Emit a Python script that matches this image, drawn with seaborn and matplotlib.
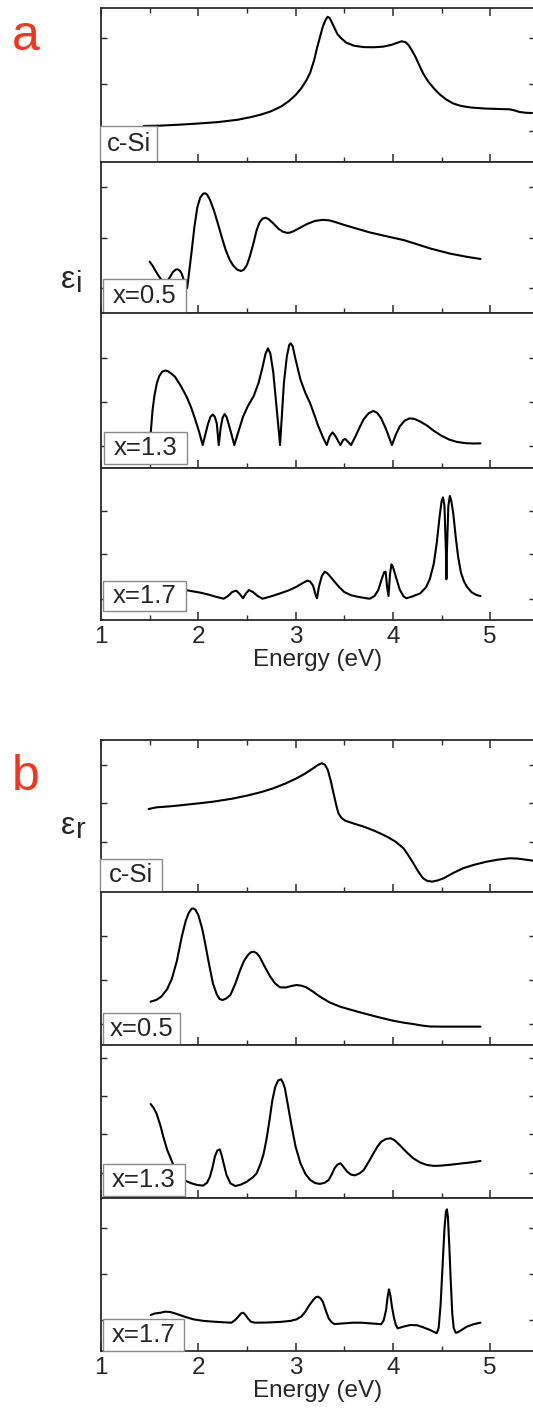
import matplotlib
matplotlib.use("Agg")
import matplotlib.pyplot as plt
from matplotlib.patches import Rectangle
from matplotlib.ticker import MultipleLocator
import seaborn as sns

# ---------------------------------------------------------------
# Imaginary part of the dielectric function (arbitrary units)
# ---------------------------------------------------------------
ei_csi_E = [1.44, 1.60, 1.80, 2.00, 2.20, 2.40, 2.55, 2.65, 2.75, 2.85, 2.93, 3.00, 3.06,
            3.11, 3.15, 3.19, 3.22, 3.25, 3.28, 3.31, 3.33, 3.35, 3.37, 3.40, 3.43, 3.47,
            3.52, 3.60, 3.70, 3.80, 3.90, 3.98, 4.04, 4.09, 4.13, 4.16, 4.19, 4.23, 4.27,
            4.31, 4.36, 4.42, 4.48, 4.55, 4.62, 4.70, 4.80, 4.95, 5.10, 5.20, 5.25, 5.30,
            5.36, 5.43]
ei_csi = [23.4, 23.6, 24.2, 25.0, 25.9, 27.4, 29.3, 30.9, 33.0, 36.0, 39.5, 43.5, 48.0,
          53.0, 58.0, 66.0, 74.0, 81.0, 88.0, 92.5, 94.3, 93.5, 91.0, 87.0, 83.0, 80.3,
          77.5, 75.5, 74.6, 74.5, 74.9, 76.0, 77.3, 78.4, 77.8, 76.0, 73.0, 68.5, 63.0,
          57.6, 52.5, 47.9, 44.0, 40.5, 38.0, 36.4, 35.4, 34.7, 34.4, 34.2, 33.5, 32.5,
          32.0, 31.8]

ei_x05_E = [1.50, 1.53, 1.555, 1.58, 1.61, 1.64, 1.66, 1.68, 1.71, 1.74, 1.77, 1.79, 1.81,
            1.83, 1.85, 1.87, 1.885, 1.90, 1.93, 1.96, 1.99, 2.02, 2.05, 2.07, 2.09, 2.12,
            2.16, 2.20, 2.24, 2.28, 2.32, 2.36, 2.40, 2.44, 2.47, 2.50, 2.53, 2.57, 2.60,
            2.63, 2.66, 2.69, 2.72, 2.77, 2.82, 2.87, 2.91, 2.94, 2.98, 3.05, 3.12, 3.20,
            3.28, 3.35, 3.42, 3.50, 3.60, 3.76, 3.95, 4.11, 4.25, 4.38, 4.50, 4.59, 4.68,
            4.76, 4.84, 4.90]
ei_x05 = [34.0, 31.3, 28.5, 25.8, 23.0, 20.5, 19.7, 20.8, 24.0, 27.2, 28.8, 28.9, 28.0,
          26.0, 22.0, 17.4, 16.5, 24.0, 40.0, 57.0, 70.0, 76.5, 79.0, 79.3, 78.5, 75.0,
          68.0, 59.5, 50.5, 42.0, 35.5, 31.3, 28.7, 27.8, 28.8, 31.8, 37.5, 47.0, 55.0,
          60.0, 62.5, 63.1, 62.3, 59.4, 56.0, 53.8, 53.1, 53.2, 54.2, 56.6, 59.0, 61.0,
          61.7, 61.3, 60.0, 58.3, 56.4, 53.4, 50.6, 48.3, 45.5, 42.8, 40.8, 39.3, 38.2,
          37.2, 36.4, 35.8]

ei_x13_E = [1.50, 1.51, 1.53, 1.55, 1.575, 1.60, 1.63, 1.66, 1.69, 1.72, 1.76, 1.82, 1.88,
            1.93, 1.97, 2.01, 2.045, 2.07, 2.10, 2.125, 2.15, 2.17, 2.19, 2.21, 2.23, 2.25,
            2.27, 2.29, 2.31, 2.34, 2.37, 2.41, 2.46, 2.51, 2.57, 2.62, 2.66, 2.69, 2.715,
            2.74, 2.77, 2.80, 2.83, 2.84, 2.855, 2.88, 2.91, 2.935, 2.95, 2.97, 3.00, 3.05,
            3.10, 3.15, 3.20, 3.23, 3.28, 3.32, 3.35, 3.38, 3.41, 3.46, 3.49, 3.51, 3.53,
            3.57, 3.62, 3.66, 3.70, 3.75, 3.80, 3.84, 3.88, 3.93, 3.99, 4.03, 4.07, 4.12,
            4.17, 4.22, 4.28, 4.35, 4.42, 4.50, 4.58, 4.66, 4.75, 4.83, 4.90]
ei_x13 = [16.0, 22.0, 37.4, 47.0, 55.0, 59.5, 62.2, 62.9, 62.4, 61.0, 58.9, 53.0, 46.0,
          38.5, 31.0, 23.0, 14.8, 21.0, 28.5, 33.0, 34.5, 33.0, 28.8, 14.8, 26.0, 32.5,
          34.8, 33.0, 28.8, 22.0, 14.8, 23.0, 33.1, 40.0, 46.5, 55.0, 65.0, 73.5, 77.2,
          74.0, 62.0, 42.0, 22.0, 14.8, 30.0, 55.0, 72.0, 79.5, 80.4, 78.5, 70.0, 57.0,
          48.5, 41.7, 33.0, 27.5, 20.0, 14.8, 20.5, 23.0, 20.5, 14.8, 18.2, 18.7, 17.5,
          14.8, 21.0, 26.5, 31.5, 35.3, 36.8, 35.5, 32.0, 25.0, 14.8, 21.5, 26.8, 30.5,
          32.0, 31.7, 30.0, 27.4, 24.0, 20.8, 18.3, 16.8, 16.0, 15.8, 15.9]

ei_x17_E = [1.50, 1.87, 1.95, 2.02, 2.10, 2.18, 2.26, 2.30, 2.35, 2.39, 2.42, 2.46, 2.49,
            2.52, 2.56, 2.61, 2.66, 2.75, 2.84, 2.93, 3.01, 3.07, 3.12, 3.15, 3.18, 3.21,
            3.22, 3.24, 3.27, 3.30, 3.33, 3.36, 3.40, 3.45, 3.50, 3.57, 3.63, 3.70, 3.76,
            3.81, 3.85, 3.88, 3.91, 3.925, 3.94, 3.955, 3.97, 3.985, 4.00, 4.03, 4.07, 4.11,
            4.14, 4.20, 4.28, 4.34, 4.38, 4.42, 4.45, 4.48, 4.50, 4.515, 4.53, 4.545, 4.55,
            4.555, 4.57, 4.585, 4.60, 4.62, 4.645, 4.67, 4.70, 4.73, 4.76, 4.81, 4.86, 4.90]
ei_x17 = [21.0, 19.7, 18.8, 18.0, 16.8, 15.3, 14.0, 15.5, 18.5, 19.3, 17.5, 14.3, 17.5,
          19.7, 18.5, 15.8, 14.0, 15.6, 17.5, 19.5, 21.9, 24.2, 25.9, 25.3, 22.5, 15.5,
          14.3, 22.0, 29.0, 31.8, 30.5, 28.3, 25.2, 21.5, 18.4, 16.3, 15.4, 14.6, 14.0,
          15.7, 19.7, 26.0, 31.5, 31.8, 22.0, 15.8, 30.0, 36.6, 35.0, 28.5, 20.0, 15.5,
          14.3, 15.5, 17.5, 21.5, 27.0, 37.0, 50.4, 68.0, 78.0, 80.7, 75.0, 45.0, 26.8,
          45.0, 75.0, 81.6, 78.5, 70.2, 55.0, 41.7, 31.0, 25.5, 21.9, 18.2, 16.4, 15.8]

# ---------------------------------------------------------------
# Real part of the dielectric function (arbitrary units)
# ---------------------------------------------------------------
er_csi_E = [1.49, 1.57, 1.70, 1.81, 2.00, 2.15, 2.35, 2.50, 2.65, 2.77, 2.90, 3.01, 3.10,
            3.18, 3.23, 3.27, 3.30, 3.33, 3.36, 3.39, 3.42, 3.44, 3.47, 3.51, 3.60, 3.70,
            3.82, 3.94, 4.03, 4.11, 4.16, 4.21, 4.26, 4.31, 4.35, 4.40, 4.46, 4.52, 4.62,
            4.72, 4.84, 4.96, 5.08, 5.20, 5.28, 5.34, 5.44]
er_csi = [54.6, 55.7, 56.3, 57.0, 58.3, 59.4, 61.4, 63.4, 65.8, 68.2, 71.5, 74.8, 78.0,
          81.4, 83.6, 84.7, 83.8, 80.5, 73.5, 64.9, 56.5, 51.8, 48.8, 46.9, 45.0, 43.0,
          40.0, 36.4, 33.0, 28.7, 24.0, 18.9, 13.5, 9.0, 7.4, 6.8, 7.6, 9.0, 12.5,
          15.6, 18.0, 19.9, 21.3, 22.2, 22.0, 21.5, 20.6]

er_x05_E = [1.51, 1.57, 1.62, 1.68, 1.73, 1.78, 1.83, 1.87, 1.90, 1.93, 1.95, 1.97, 2.00,
            2.04, 2.07, 2.11, 2.15, 2.19, 2.22, 2.25, 2.29, 2.33, 2.38, 2.43, 2.47, 2.51,
            2.54, 2.57, 2.60, 2.63, 2.68, 2.74, 2.79, 2.84, 2.90, 2.96, 3.01, 3.06, 3.11,
            3.18, 3.25, 3.35, 3.46, 3.58, 3.70, 3.85, 4.00, 4.11, 4.21, 4.30, 4.38, 4.50,
            4.90]
er_x05 = [28.3, 29.5, 31.6, 36.5, 43.6, 55.0, 70.8, 81.0, 86.1, 89.0, 89.3, 88.4, 85.0,
          76.0, 66.5, 53.0, 40.3, 33.0, 30.0, 29.4, 30.5, 32.7, 40.0, 49.0, 55.0, 58.8,
          60.6, 61.0, 60.0, 57.7, 51.5, 44.6, 40.2, 37.7, 37.6, 38.6, 39.2, 38.8, 37.7,
          34.8, 31.6, 27.8, 25.0, 22.8, 20.7, 18.2, 15.9, 14.6, 13.7, 12.7, 12.1, 12.0,
          12.0]

er_x13_E = [1.51, 1.54, 1.57, 1.61, 1.64, 1.68, 1.73, 1.77, 1.81, 1.87, 1.93, 1.99, 2.05,
            2.09, 2.12, 2.15, 2.17, 2.195, 2.22, 2.24, 2.26, 2.29, 2.33, 2.38, 2.44, 2.50,
            2.56, 2.60, 2.64, 2.67, 2.70, 2.73, 2.76, 2.79, 2.82, 2.85, 2.87, 2.89, 2.92,
            2.96, 3.00, 3.05, 3.10, 3.15, 3.20, 3.25, 3.30, 3.34, 3.37, 3.40, 3.43, 3.46,
            3.49, 3.53, 3.57, 3.61, 3.66, 3.70, 3.75, 3.80, 3.84, 3.88, 3.93, 3.98, 4.02,
            4.07, 4.14, 4.21, 4.28, 4.35, 4.42, 4.48, 4.60, 4.72, 4.82, 4.90]
er_x13 = [61.4, 59.0, 55.3, 47.5, 40.1, 31.5, 23.7, 18.0, 13.9, 11.2, 9.6, 8.5, 8.1,
          10.0, 13.9, 21.0, 27.0, 31.0, 31.8, 28.0, 22.7, 15.0, 9.6, 7.8, 8.8, 10.7,
          13.5, 16.1, 22.5, 28.5, 38.0, 50.0, 63.5, 72.5, 76.8, 77.6, 75.5, 71.7, 61.0,
          46.6, 33.5, 22.7, 15.8, 11.8, 9.8, 9.2, 10.0, 11.8, 15.3, 19.4, 21.8, 22.7,
          20.5, 17.2, 15.3, 14.8, 16.2, 18.3, 23.5, 29.2, 33.5, 36.8, 38.6, 39.0, 37.6,
          34.6, 30.0, 25.9, 23.2, 21.6, 21.0, 21.1, 21.8, 22.7, 23.4, 24.2]

er_x17_E = [1.51, 1.55, 1.61, 1.66, 1.71, 1.76, 1.81, 1.88, 1.95, 2.05, 2.15, 2.25, 2.34,
            2.38, 2.41, 2.44, 2.46, 2.48, 2.51, 2.54, 2.58, 2.70, 2.84, 2.95, 3.01, 3.06,
            3.10, 3.14, 3.18, 3.21, 3.23, 3.255, 3.28, 3.31, 3.34, 3.37, 3.40, 3.48, 3.59,
            3.68, 3.76, 3.83, 3.88, 3.905, 3.93, 3.945, 3.96, 3.975, 3.99, 4.01, 4.03, 4.05,
            4.10, 4.18, 4.25, 4.31, 4.38, 4.45, 4.47, 4.49, 4.51, 4.53, 4.545, 4.555, 4.565,
            4.58, 4.595, 4.61, 4.625, 4.645, 4.66, 4.70, 4.76, 4.83, 4.90]
er_x17 = [23.5, 24.5, 25.0, 25.7, 25.5, 24.6, 23.5, 22.0, 20.7, 19.7, 19.2, 18.8, 18.5,
          20.3, 22.4, 24.6, 25.0, 24.0, 21.3, 19.2, 18.5, 18.6, 19.0, 19.7, 20.7, 22.6,
          25.7, 29.8, 33.3, 35.2, 35.5, 34.5, 32.2, 26.5, 21.3, 18.8, 17.6, 18.0, 18.5,
          18.5, 18.1, 17.8, 17.5, 20.0, 26.8, 35.0, 40.3, 36.0, 29.0, 22.0, 17.0, 14.8,
          15.8, 17.0, 16.8, 15.5, 13.8, 11.6, 15.0, 30.0, 55.0, 80.0, 91.0, 92.6, 88.0,
          68.2, 45.0, 24.6, 15.0, 12.0, 12.0, 13.5, 15.9, 17.5, 18.5]

sample_labels = ["c-Si", "x=0.5", "x=1.3", "x=1.7"]
energy_ticks = [1, 2, 3, 4, 5]

# y tick positions of each stacked panel (same arbitrary units)
ei_yticks = [[20.1, 50.6, 80.5], [16.6, 49.7, 83.4], [14.2, 42.6, 71.0], [13.8, 43.4, 71.7]]
er_yticks = [[32.9, 58.6, 83.6], [13.7, 42.5, 71.2], [16.3, 41.8, 66.7, 91.5], [20.3, 50.3, 80.4]]

ei_curves = [(ei_csi_E, ei_csi), (ei_x05_E, ei_x05), (ei_x13_E, ei_x13), (ei_x17_E, ei_x17)]
er_curves = [(er_csi_E, er_csi), (er_x05_E, er_x05), (er_x13_E, er_x13), (er_x17_E, er_x17)]

# ---------------------------------------------------------------
sns.set_style("ticks")
plt.rcParams["font.family"] = ["Liberation Sans", "DejaVu Sans"]

W, H = 533, 1423
fig = plt.figure(figsize=(W / 100, H / 100), dpi=100)

AX_LEFT, AX_RIGHT = 101, 535          # pixel extent of every panel
PX_PER_EV = 97.3
XMIN = 1.0
XMAX = XMIN + (AX_RIGHT - AX_LEFT) / PX_PER_EV

rows_a = [(8, 162), (162, 313), (313, 468), (468, 620)]
rows_b = [(740, 892), (892, 1045), (1045, 1198), (1198, 1351)]

# label boxes: (left, right, top, bottom) in pixels
boxes_a = [(100, 157, 126, 162), (103, 186, 279, 313), (104, 187, 432, 464), (103, 186, 581, 611)]
boxes_b = [(100, 162, 859, 892), (103, 180, 1013, 1045), (103, 185, 1164, 1196), (103, 184, 1319, 1351)]

SPINE = "#2b2b2b"


def add_panel(top, bottom):
    return fig.add_axes([AX_LEFT / W, 1 - bottom / H, (AX_RIGHT - AX_LEFT) / W, (bottom - top) / H])


def draw_stack(rows, boxes, curves, yticks):
    axes = []
    for i, ((top, bot), box, (E, v), yt, lab) in enumerate(zip(rows, boxes, curves, yticks, sample_labels)):
        ax = add_panel(top, bot)
        sns.lineplot(x=E, y=v, ax=ax, color="black", lw=1.5, estimator=None, sort=False)
        ax.set_xlim(XMIN, XMAX)
        ax.set_ylim(0, 100)
        ax.set_yticks(yt)
        ax.set_yticklabels([])
        ax.xaxis.set_major_locator(MultipleLocator(1))
        ax.xaxis.set_minor_locator(MultipleLocator(0.5))
        last = i == len(rows) - 1
        ax.tick_params(axis="x", which="major", direction="in", length=6, width=1.1,
                       top=(i == 0), bottom=True, labelbottom=last, labelsize=17.5, color=SPINE, pad=4)
        ax.tick_params(axis="x", which="minor", direction="in", length=3.5, width=1.0,
                       top=(i == 0), bottom=True, color=SPINE)
        ax.tick_params(axis="y", which="major", direction="in", length=4, width=1.0,
                       left=True, right=True, color=SPINE)
        for s in ax.spines.values():
            s.set_color(SPINE)
            s.set_linewidth(1.3)
        ax.set_xlabel("")
        ax.set_ylabel("")
        if last:
            ax.set_xticks(energy_ticks)
            ax.set_xlabel("Energy (eV)", fontsize=17.5, labelpad=1)

        # sample label box
        l, r, t, b = box
        h = bot - top
        x0 = (l - AX_LEFT) / (AX_RIGHT - AX_LEFT)
        x1 = (r - AX_LEFT) / (AX_RIGHT - AX_LEFT)
        y0 = (bot - b) / h
        y1 = (bot - t) / h
        ax.add_patch(Rectangle((x0, y0), x1 - x0, y1 - y0, transform=ax.transAxes,
                               facecolor="white", edgecolor="#8a8a8a", lw=1.0, zorder=5,
                               clip_on=False))
        ax.text((x0 + x1) / 2, (y0 + y1) / 2, lab, transform=ax.transAxes, ha="center",
                va="center", fontsize=18.5, zorder=6)
        axes.append(ax)
    return axes


draw_stack(rows_a, boxes_a, ei_curves, ei_yticks)
draw_stack(rows_b, boxes_b, er_curves, er_yticks)

# panel letters
fig.text(12 / W, 1 - 50 / H, "a", color="#f2351b", fontsize=36, ha="left", va="baseline")
fig.text(12 / W, 1 - 790 / H, "b", color="#f2351b", fontsize=36, ha="left", va="baseline")

# axis quantity symbols
fig.text(61 / W, 1 - 288 / H, "ε", fontsize=23, ha="left", va="baseline")
fig.text(76 / W, 1 - 292 / H, "i", fontsize=21, ha="left", va="baseline")
fig.text(61 / W, 1 - 834 / H, "ε", fontsize=23, ha="left", va="baseline")
fig.text(76 / W, 1 - 838 / H, "r", fontsize=21, ha="left", va="baseline")

fig.savefig("out.png", dpi=100)
